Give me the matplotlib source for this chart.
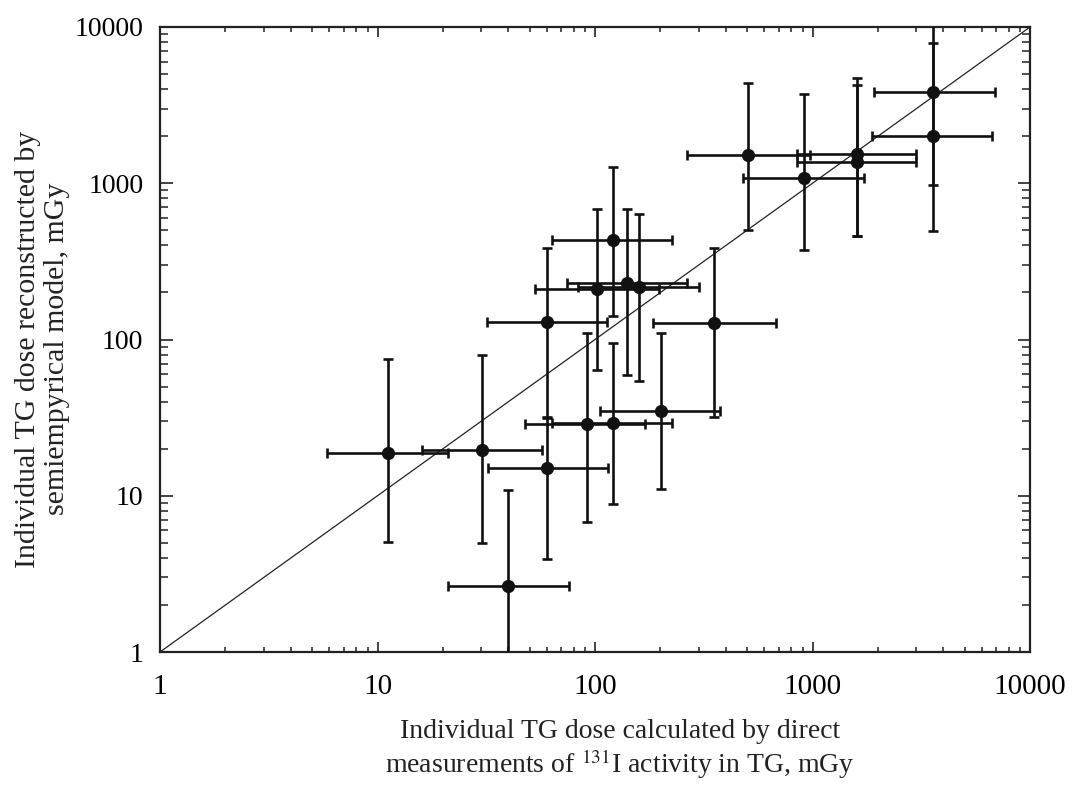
import matplotlib
matplotlib.use("Agg")
import matplotlib.pyplot as plt
import numpy as np

plt.rcParams['font.family'] = ['Liberation Serif', 'DejaVu Serif']
plt.rcParams['mathtext.fontset'] = 'stix'

# dose pairs (mGy)
x_dose = [11.2, 30.2, 39.8, 60.2, 60.2, 91.9, 121, 201, 352, 121, 102, 140, 159,
          505, 914, 1603, 1603, 3581, 3581]
y_dose = [18.8, 19.6, 2.64, 15.1, 129, 28.8, 29.2, 34.9, 128, 433, 210, 230, 217,
          1517, 1081, 1538, 1368, 3838, 2006]
x_low = [5.86, 16.0, 21.1, 32.2, 32.0, 47.7, 63.4, 105, 185, 63.4, 53, 74.3, 83.5,
         265, 479, 849, 849, 1918, 1878]
x_high = [21.1, 57, 76, 115, 114, 170, 226, 376, 679, 226, 196, 265, 301,
          974, 1726, 2992, 2992, 6903, 6685]
y_low = [5.06, 5.0, 0.9, 3.94, 31.9, 6.79, 8.86, 11.0, 32, 141, 63.8, 59, 54,
         502, 374, 459, 459, 975, 495]
y_high = [75, 80, 10.9, 31.6, 385, 110, 95, 110, 385, 1270, 684, 684, 635,
          4385, 3724, 4718, 4254, 12000, 7905]

axis_range = [1, 10000]
tick_vals = [1, 10, 100, 1000, 10000]
tick_text = ['1', '10', '100', '1000', '10000']

x = np.array(x_dose)
y = np.array(y_dose)
xerr = [x - np.array(x_low), np.array(x_high) - x]
yerr = [y - np.array(y_low), np.array(y_high) - y]

fig = plt.figure(figsize=(10.78, 7.85), dpi=100)
ax = fig.add_axes([160 / 1078, 1 - 652 / 785, 870 / 1078, 625 / 785])

# y = x reference line
ax.plot(axis_range, axis_range, color='#222222', lw=0.9, zorder=1)

ax.errorbar(x, y, xerr=xerr, yerr=yerr, fmt='o', color='#111111', ms=8.5,
            elinewidth=1.9, capsize=3.6, capthick=1.9, zorder=3)

ax.set_xscale('log')
ax.set_yscale('log')
ax.set_xlim(axis_range)
ax.set_ylim(axis_range)

ax.set_xticks(tick_vals)
ax.set_xticklabels(tick_text)
ax.set_yticks(tick_vals)
ax.set_yticklabels(tick_text)

for s in ax.spines.values():
    s.set_linewidth(1.6)
    s.set_color('#222222')

ax.tick_params(which='both', direction='in', top=True, right=True, color='#222222')
ax.tick_params(axis='x', which='major', length=7, width=1.2, pad=16, labelsize=21)
ax.tick_params(axis='x', which='minor', length=3.5, width=1.1)
ax.tick_params(axis='y', which='major', length=9, width=1.2, pad=12, labelsize=20)
ax.tick_params(axis='y', which='minor', length=5.5, width=1.1)

fig.text(620 / 1078, 1 - 750 / 785,
         "Individual TG dose calculated by direct\nmeasurements of $^{131}$I activity in TG, mGy",
         ha='center', va='center', fontsize=20, linespacing=1.15, color='#222222')
fig.text(43 / 1078, 1 - 349 / 785,
         "Individual TG dose reconstructed by\nsemiempyrical model, mGy",
         ha='center', va='center', rotation=90, fontsize=21.5, linespacing=1.15,
         color='#222222')

fig.savefig('out.png', dpi=100)
